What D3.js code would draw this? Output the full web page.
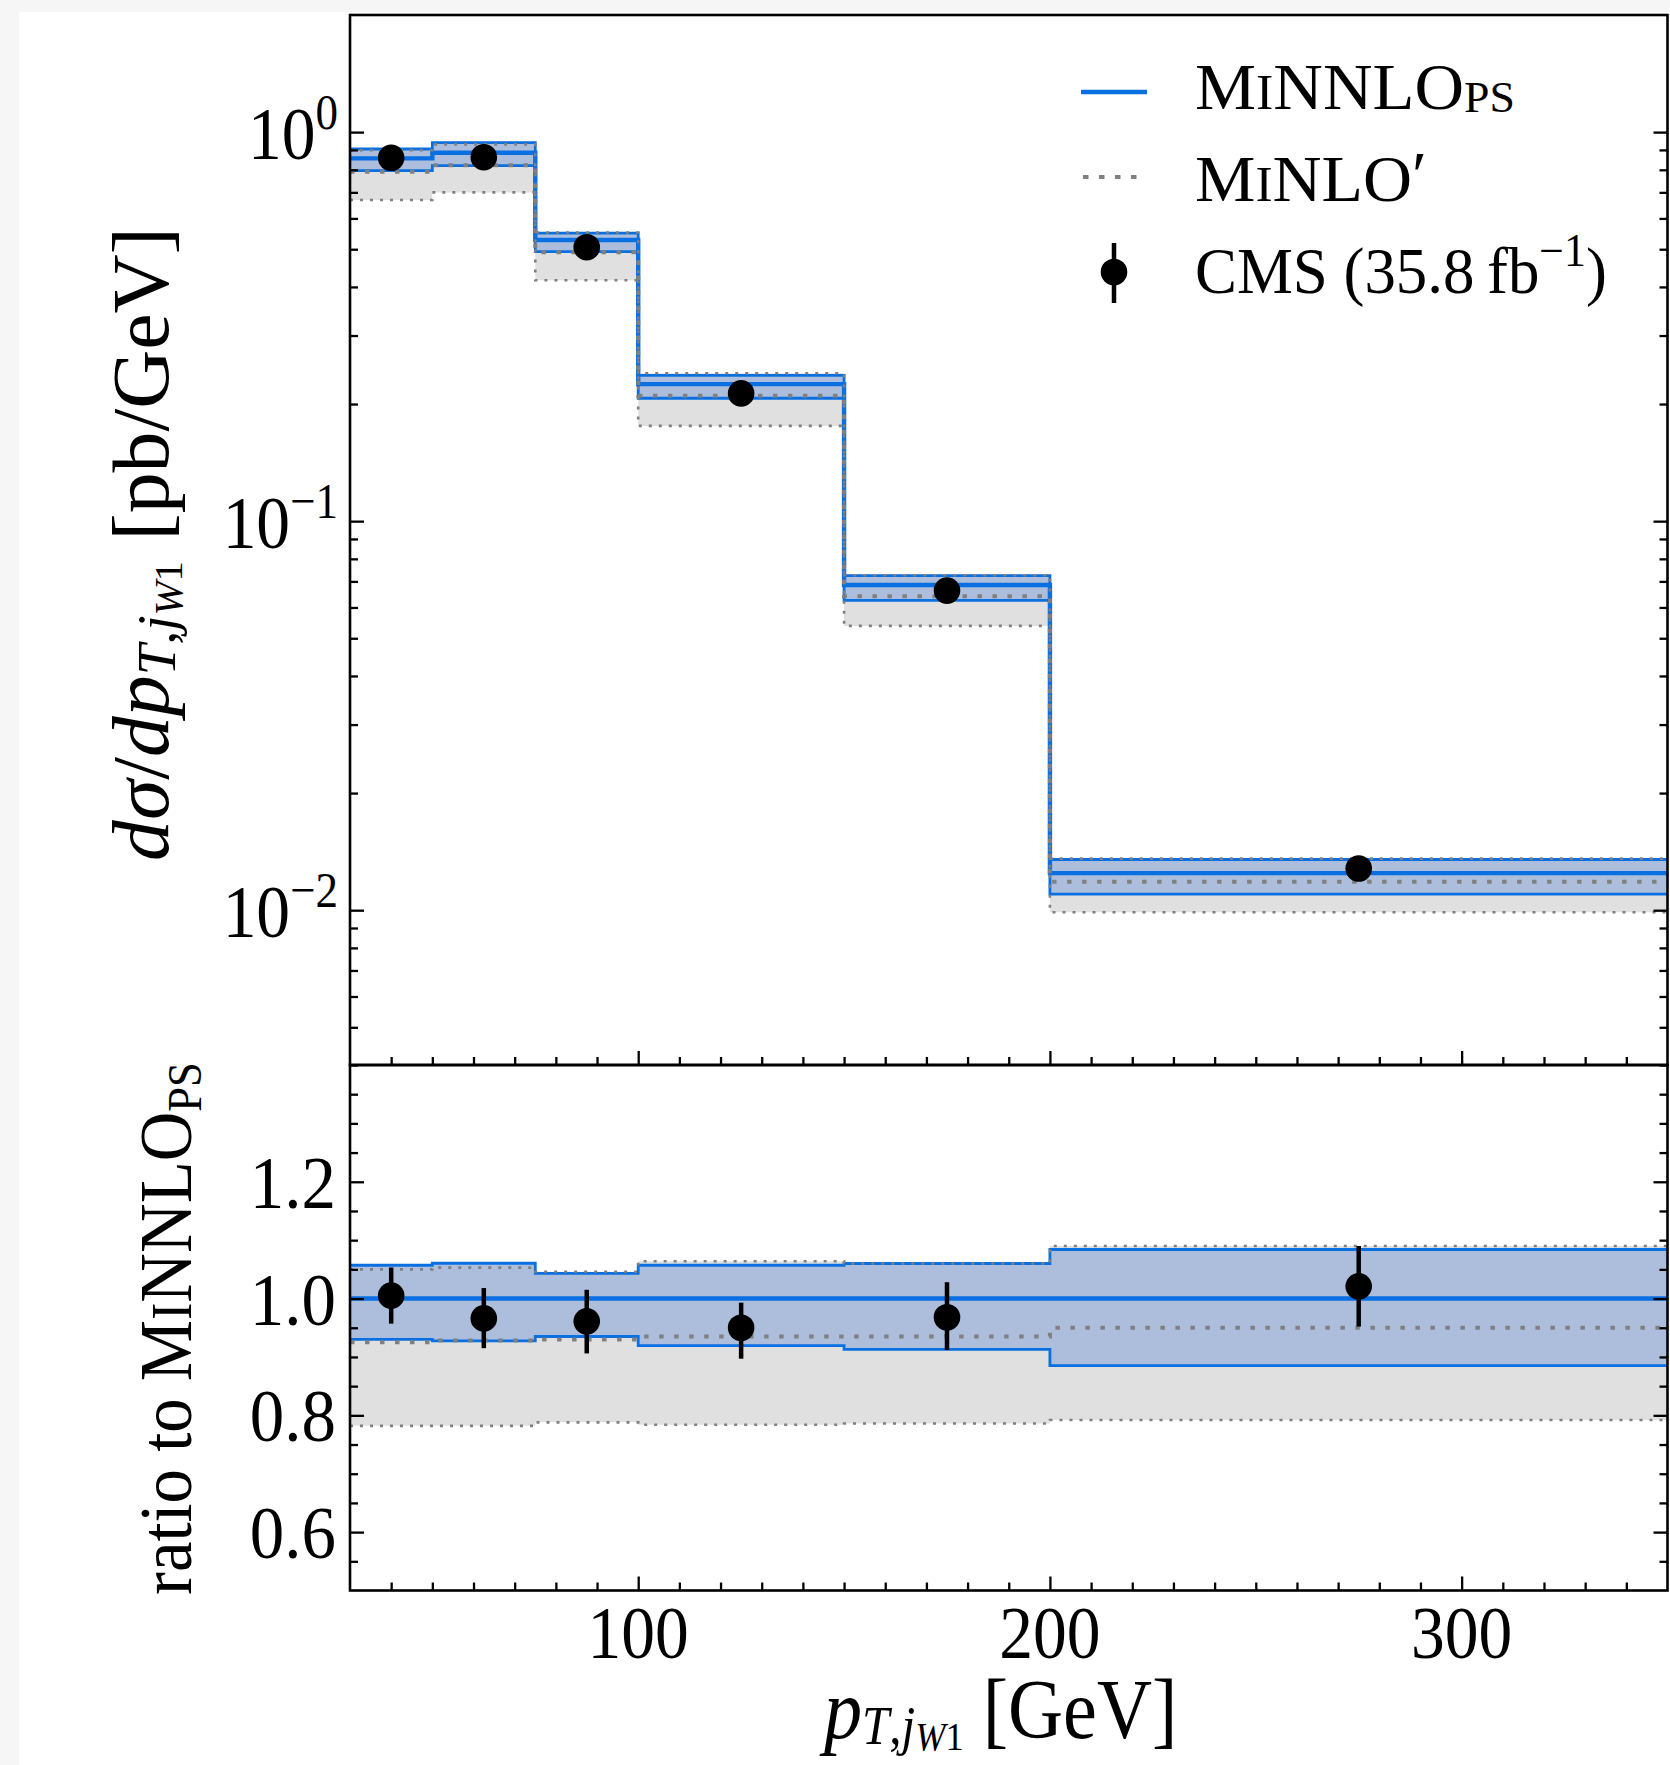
<!DOCTYPE html>
<html><head><meta charset="utf-8">
<script src="https://cdn.jsdelivr.net/npm/d3@7"></script>
<style>
body{margin:0;background:#f6f6f6}
svg{display:block}
text{font-family:"Liberation Serif","Times New Roman",serif;fill:#000;white-space:pre}
</style>
</head><body>
<svg id="c" width="1670" height="1765"></svg>
<script>
// ---------------- data ----------------
const binEdges = [30, 50, 75, 100, 150, 200, 350];
const dataX    = [40, 62.5, 87.5, 125, 175, 275];
const xDomain = [30, 350];
const yTopDomain = [0.004, 2];
const yRatioDomain = [0.5, 1.4];
const xMajor = [100, 200, 300];
const xMinor = [40,50,60,70,80,90,110,120,130,140,150,160,170,180,190,210,220,230,240,250,260,270,280,290,310,320,330,340];
const logMajor = [0.01, 0.1, 1];
const logMajorLabels = ["\u22122", "\u22121", "0"];
const logMinor = [0.004,0.005,0.006,0.007,0.008,0.009,0.02,0.03,0.04,0.05,0.06,0.07,0.08,0.09,0.2,0.3,0.4,0.5,0.6,0.7,0.8,0.9];
const ratioMajor = [0.6, 0.8, 1.0, 1.2];
const ratioMajorLabels = ["0.6", "0.8", "1.0", "1.2"];
const ratioMinor = [0.55,0.65,0.7,0.75,0.85,0.9,0.95,1.05,1.1,1.15,1.25,1.3,1.35];

// upper panel (pb/GeV)
const minnlo   = [0.856, 0.885, 0.528, 0.225, 0.0685, 0.01245];
const minnloHi = [0.905, 0.940, 0.550, 0.237, 0.0724, 0.0135];
const minnloLo = [0.796, 0.820, 0.493, 0.207, 0.0626, 0.0110];
const minlo    = [0.791, 0.822, 0.491, 0.210, 0.0641, 0.01184];
const minloHi  = [0.898, 0.930, 0.552, 0.240, 0.0726, 0.01357];
const minloLo  = [0.669, 0.700, 0.416, 0.1757, 0.0538, 0.00988];
const cms      = [0.859, 0.862, 0.506, 0.213, 0.0663, 0.0128];
const cmsHi    = [0.900, 0.903, 0.534, 0.2235, 0.0701, 0.01365];
const cmsLo    = [0.818, 0.816, 0.477, 0.2015, 0.0627, 0.01218];

// ratio panel
const rMinnlo   = [1, 1, 1, 1, 1, 1];
const rMinnloHi = [1.057, 1.0605, 1.043, 1.057, 1.060, 1.084];
const rMinnloLo = [0.930, 0.9275, 0.935, 0.9195, 0.913, 0.885];
const rMinlo    = [0.925, 0.928, 0.930, 0.935, 0.935, 0.950];
const rMinloHi  = [1.050, 1.053, 1.046, 1.064, 1.060, 1.090];
const rMinloLo  = [0.782, 0.782, 0.788, 0.784, 0.786, 0.792];
const rCms      = [1.005, 0.966, 0.961, 0.950, 0.968, 1.021];
const rCmsHi    = [1.053, 1.018, 1.015, 0.993, 1.028, 1.090];
const rCmsLo    = [0.957, 0.915, 0.906, 0.897, 0.912, 0.952];

// ---------------- style ----------------
const BLUE = "#0a6fe0", BLUEFILL = "#adbedc", GRAYFILL = "#e0e0e0", GRAY = "#808080";

const svg = d3.select("#c");
svg.append("rect").attr("x",19).attr("y",12).attr("width",1651).attr("height",1753).attr("fill","#fff");

const L=350, R=1667.5, T=15, M=1065, B=1590.5;
const x  = d3.scaleLinear().domain(xDomain).range([L,R]);
const yU = d3.scaleLog().domain(yTopDomain).range([M,T]);
const yR = d3.scaleLinear().domain(yRatioDomain).range([B,M]);

const defs = svg.append("defs");
defs.append("clipPath").attr("id","clipU").append("rect").attr("x",L).attr("y",T).attr("width",R-L).attr("height",M-T);
defs.append("clipPath").attr("id","clipR").append("rect").attr("x",L).attr("y",M).attr("width",R-L).attr("height",B-M);

function stepPts(v){ return binEdges.map((e,i)=>[e, v[Math.min(i,v.length-1)]]); }
function bandPts(lo,hi){ return binEdges.map((e,i)=>{const j=Math.min(i,lo.length-1); return [e,lo[j],hi[j]];}); }

function drawPanel(clip, y, s){
  const g = svg.append("g").attr("clip-path",`url(#${clip})`);
  const area = d3.area().x(d=>x(d[0])).y0(d=>y(d[1])).y1(d=>y(d[2])).curve(d3.curveStepAfter);
  const line = d3.line().x(d=>x(d[0])).y(d=>y(d[1])).curve(d3.curveStepAfter);
  g.append("path").attr("d",area(bandPts(s.gLo,s.gHi))).attr("fill",GRAYFILL);
  g.append("path").attr("d",area(bandPts(s.bLo,s.bHi))).attr("fill",BLUEFILL);
  [s.bLo,s.bHi].forEach(v=>g.append("path").attr("d",line(stepPts(v))).attr("fill","none").attr("stroke",BLUE).attr("stroke-width",2.8));
  g.append("path").attr("d",line(stepPts(s.b))).attr("fill","none").attr("stroke",BLUE).attr("stroke-width",4.4);
  [s.gLo,s.gHi].forEach(v=>g.append("path").attr("d",line(stepPts(v))).attr("fill","none").attr("stroke",GRAY).attr("stroke-width",2.6).attr("stroke-dasharray","3,7"));
  g.append("path").attr("d",line(stepPts(s.g))).attr("fill","none").attr("stroke",GRAY).attr("stroke-width",4).attr("stroke-dasharray","4.5,10.5");
  const pts = g.append("g");
  dataX.forEach((dx,i)=>{
    pts.append("line").attr("x1",x(dx)).attr("x2",x(dx)).attr("y1",y(s.dLo[i])).attr("y2",y(s.dHi[i])).attr("stroke","#000").attr("stroke-width",4.5);
    pts.append("circle").attr("cx",x(dx)).attr("cy",y(s.d[i])).attr("r",13.3).attr("fill","#000");
  });
}
drawPanel("clipU", yU, {b:minnlo,bHi:minnloHi,bLo:minnloLo,g:minlo,gHi:minloHi,gLo:minloLo,d:cms,dHi:cmsHi,dLo:cmsLo});
drawPanel("clipR", yR, {b:rMinnlo,bHi:rMinnloHi,bLo:rMinnloLo,g:rMinlo,gHi:rMinloHi,gLo:rMinloLo,d:rCms,dHi:rCmsHi,dLo:rCmsLo});

// ---------------- ticks ----------------
function ticks(gen, scale, vals, size, tr){
  const g = svg.append("g").attr("transform",tr)
    .call(gen(scale).tickValues(vals).tickSize(size).tickFormat(""));
  g.select(".domain").remove();
  g.selectAll("text").remove();
  g.selectAll("line").attr("stroke","#000").attr("stroke-width",2.3);
}
ticks(d3.axisLeft,  yU, logMajor, -14, `translate(${L},0)`);
ticks(d3.axisLeft,  yU, logMinor, -8,  `translate(${L},0)`);
ticks(d3.axisRight, yU, logMajor, -14, `translate(${R},0)`);
ticks(d3.axisRight, yU, logMinor, -8,  `translate(${R},0)`);
ticks(d3.axisLeft,  yR, ratioMajor, -14, `translate(${L},0)`);
ticks(d3.axisLeft,  yR, ratioMinor, -8,  `translate(${L},0)`);
ticks(d3.axisRight, yR, ratioMajor, -14, `translate(${R},0)`);
ticks(d3.axisRight, yR, ratioMinor, -8,  `translate(${R},0)`);
ticks(d3.axisBottom, x, xMajor, -14, `translate(0,${M})`);
ticks(d3.axisBottom, x, xMinor, -8,  `translate(0,${M})`);
ticks(d3.axisBottom, x, xMajor, -14, `translate(0,${B})`);
ticks(d3.axisBottom, x, xMinor, -8,  `translate(0,${B})`);

// frames
[[T,M],[M,B]].forEach(([a,b])=>svg.append("rect").attr("x",L).attr("y",a).attr("width",R-L).attr("height",b-a)
  .attr("fill","none").attr("stroke","#000").attr("stroke-width",2.6));

// ---------------- text ----------------
function rich(parent, parts, base){
  const t = parent.append("text").attr("font-size",base);
  let cur = 0;
  parts.forEach(p=>{
    const sh = p.sh||0;
    const ts = t.append("tspan").text(p.t).attr("font-size",p.s||base).attr("dy",sh-cur);
    if(p.i) ts.attr("font-style","italic");
    cur = sh;
  });
  return t;
}
function place(parts, base, o){
  const g = svg.append("g");
  const t = rich(g, parts, base);
  const w = t.node().getBBox().width;
  let s = o.sx||1;
  if(o.width) s = o.width/w;
  let off = 0;
  if(o.anchor==="end") off=-w; else if(o.anchor==="middle") off=-w/2;
  t.attr("x",off);
  g.attr("transform",`translate(${o.x},${o.y}) rotate(${o.rot||0}) scale(${s},1)`);
  return g;
}

// x tick labels
xMajor.forEach(v=>place([{t:String(v)}],75,{x:x(v),y:1658,anchor:"middle",sx:0.9}));
// ratio tick labels
ratioMajor.forEach((v,i)=>place([{t:ratioMajorLabels[i]}],75,{x:336,y:yR(v)+26,anchor:"end",sx:0.92}));
// log tick labels
logMajor.forEach((v,i)=>place([{t:"10"},{t:logMajorLabels[i],s:50,sh:-30}],75,{x:338,y:yU(v)+27,anchor:"end",sx:0.9}));

// axis labels
place([{t:"d",i:1},{t:"σ",i:1},{t:"/"},{t:"dp",i:1},{t:"T",i:1,s:54,sh:7},{t:",",s:54,sh:7},{t:"j",i:1,s:54,sh:7},
       {t:"W",i:1,s:40,sh:14},{t:"1",s:40,sh:14},{t:" [pb/GeV]",sh:0}],80,{x:168,y:861,rot:-90,width:634});
place([{t:"ratio to M"},{t:"I",s:56},{t:"NNLO"},{t:"PS",s:48,sh:10}],74,{x:191,y:1595,rot:-90,width:533});
place([{t:"p",i:1},{t:"T",i:1,s:54,sh:6},{t:",",s:54,sh:6},{t:"j",i:1,s:54,sh:6},
       {t:"W",i:1,s:40,sh:12},{t:"1",s:40,sh:12},{t:" [GeV]",sh:0}],84,{x:824,y:1738,width:358});

// legend
svg.append("line").attr("x1",1081).attr("x2",1147).attr("y1",92).attr("y2",92).attr("stroke",BLUE).attr("stroke-width",4.5);
svg.append("line").attr("x1",1083).attr("x2",1146).attr("y1",177).attr("y2",177).attr("stroke",GRAY).attr("stroke-width",4).attr("stroke-dasharray","5.5,10.5");
svg.append("line").attr("x1",1114).attr("x2",1114).attr("y1",243).attr("y2",303).attr("stroke","#000").attr("stroke-width",4.5);
svg.append("circle").attr("cx",1114).attr("cy",272).attr("r",13.3).attr("fill","#000");
place([{t:"M"},{t:"I",s:50},{t:"NNLO"},{t:"PS",s:44,sh:3}],66,{x:1195,y:109,width:320});
place([{t:"M"},{t:"I",s:50},{t:"NLO"},{t:"\u2032",s:66,sh:-4}],66,{x:1195,y:201,width:232});
place([{t:"CMS (35.8\u2009fb"},{t:"\u22121",s:46,sh:-27},{t:")",sh:0}],66,{x:1195,y:293,width:412});
</script>
</body></html>
